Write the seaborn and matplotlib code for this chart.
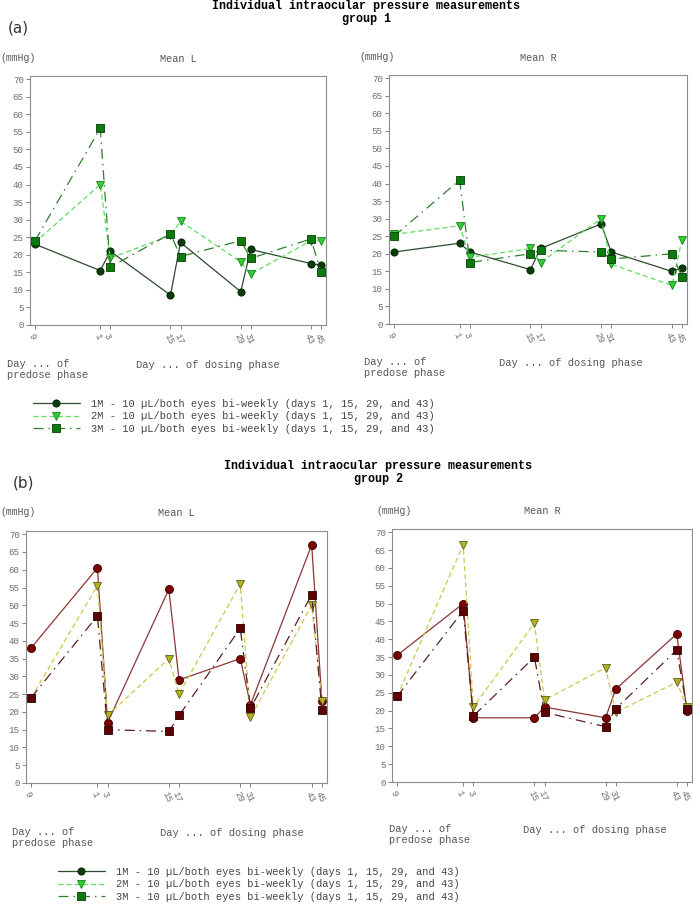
import matplotlib
matplotlib.use("Agg")
import matplotlib.pyplot as plt
import numpy as np
import pandas as pd
import seaborn as sns

sns.set_theme(style="white")
plt.rcParams["font.family"] = ["Liberation Mono", "DejaVu Sans Mono"]

W, H = 693, 908

# x positions: predose day 9 drawn left of dosing day 1
DAY_LABELS = ["9", "1", "3", "15", "17", "29", "31", "43", "45"]
DAY_POS = [-12, 1, 3, 15, 17, 29, 31, 43, 45]

# ── group 1 ───────────────────────────────────────────────────────────────────
g1_L_1M = [23, 15.5, 21, 8.5, 23.5, 9.5, 21.5, 17.5, 17]
g1_L_2M = [23.5, 40, 19, 25.5, 29.5, 18, 14.5, 24, 24]
g1_L_3M = [24, 56, 16.5, 26, 19.5, 24, 19, 24.5, 15]

g1_R_1M = [20.5, 23, 20.5, 15.5, 21.5, 28.5, 20.5, 15, 16]
g1_R_2M = [25.5, 28, 19, 21.5, 17.5, 30, 17, 11, 24]
g1_R_3M = [25, 41, 17.5, 20, 21, 20.5, 18.5, 20, 13.5]

# ── group 2 ───────────────────────────────────────────────────────────────────
g2_L_1M = [38, 60.5, 17, 54.5, 29, 35, 22, 67, 23]
g2_L_2M = [24, 55.5, 19, 35, 25, 56, 18.5, 50, 23]
g2_L_3M = [24, 47, 15, 14.5, 19, 43.5, 21, 53, 20.5]

g2_R_1M = [35.5, 50, 18, 18, 21, 18, 26, 41.5, 20]
g2_R_2M = [24, 66.5, 21, 44.5, 23, 32, 19.5, 28, 21]
g2_R_3M = [24, 48, 18.5, 35, 19.5, 15.5, 20.5, 37, 20.5]

LEGEND_LABELS = [
    "1M - 10 \u00b5L/both eyes bi-weekly (days 1, 15, 29, and 43)",
    "2M - 10 \u00b5L/both eyes bi-weekly (days 1, 15, 29, and 43)",
    "3M - 10 \u00b5L/both eyes bi-weekly (days 1, 15, 29, and 43)",
]

DASH_3M = (0, (8, 4, 1.2, 4))
STYLES = [
    dict(marker="o", linestyle="-"),
    dict(marker="v", linestyle=(0, (4, 2.5))),
    dict(marker="s", linestyle=DASH_3M),
]
G1_COLORS = [  # (line, marker face, marker edge)
    ("#2f4a2f", "#0b3d0b", "#001f00"),
    ("#5ede5e", "#33cc33", "#1d801d"),
    ("#2f7f2f", "#0c7a0c", "#053f05"),
]
G2_COLORS = [
    ("#8b3535", "#7a0000", "#3d0000"),
    ("#c9c94a", "#b3b322", "#5e5e10"),
    ("#5a1f1f", "#5c0000", "#2e0000"),
]

GREY = "#6e6e6e"
FRAME = "#8c8c8c"


def axes_rect(left, top, right, bottom):
    return [left / W, 1 - bottom / H, (right - left) / W, (bottom - top) / H]


def draw_panel(ax, series, colors, title, msize):
    handles = []
    for vals, st, (lc, mfc, mec) in zip(series, STYLES, colors):
        df = pd.DataFrame({"day": DAY_POS, "mmHg": vals})
        sns.lineplot(data=df, x="day", y="mmHg", ax=ax, sort=False,
                     color=lc, linewidth=0.9, markersize=msize,
                     markerfacecolor=mfc, markeredgecolor=mec,
                     markeredgewidth=0.6, **st)
        handles.append(ax.lines[-1])
    ax.set_xlim(-13, 46)
    ax.set_ylim(0, 70.9)
    ax.set_yticks(np.arange(0, 71, 5))
    ax.set_xticks(DAY_POS)
    ax.set_xticklabels(DAY_LABELS, rotation=-65, ha="left", va="top",
                       rotation_mode="anchor")
    ax.set_xlabel("")
    ax.set_ylabel("")
    ax.tick_params(axis="both", labelsize=6.6, colors=GREY, length=3,
                   width=0.6, direction="out", pad=1.5)
    ax.tick_params(axis="x", pad=2)
    ax.tick_params(left=True, bottom=True)
    for sp in ax.spines.values():
        sp.set_color(FRAME)
        sp.set_linewidth(0.8)
    ax.text(0.5, 1.07, title, transform=ax.transAxes, ha="center",
            va="center", fontsize=7.4, color="#555555")
    return handles


fig = plt.figure(figsize=(W / 100, H / 100), dpi=100)

ax_tl = fig.add_axes(axes_rect(30, 76, 326, 325))
ax_tr = fig.add_axes(axes_rect(389, 75, 687, 324))
ax_bl = fig.add_axes(axes_rect(26, 531, 327, 783))
ax_br = fig.add_axes(axes_rect(392, 529, 692, 782))

h1 = draw_panel(ax_tl, [g1_L_1M, g1_L_2M, g1_L_3M], G1_COLORS, "Mean L", 5.2)
draw_panel(ax_tr, [g1_R_1M, g1_R_2M, g1_R_3M], G1_COLORS, "Mean R", 5.2)
draw_panel(ax_bl, [g2_L_1M, g2_L_2M, g2_L_3M], G2_COLORS, "Mean L", 5.8)
draw_panel(ax_br, [g2_R_1M, g2_R_2M, g2_R_3M], G2_COLORS, "Mean R", 5.8)


def ftext(x, y, s, **kw):
    kw.setdefault("fontsize", 7.5)
    kw.setdefault("color", "#555555")
    kw.setdefault("va", "center")
    fig.text(x / W, 1 - y / H, s, **kw)


# titles
for y0, grp, cx in [(6, "group 1", 366), (466, "group 2", 378)]:
    ftext(cx, y0, "Individual intraocular pressure measurements",
          ha="center", fontweight="bold", color="black", fontsize=8.5)
    ftext(cx, y0 + 13, grp, ha="center", fontweight="bold", color="black",
          fontsize=8.5)

ftext(8, 28, "(a)", family="DejaVu Sans", fontsize=11, color="#333333")
ftext(13, 483, "(b)", family="DejaVu Sans", fontsize=11, color="#333333")

for x, y in [(0, 58), (359, 57), (0, 512), (376, 511)]:
    ftext(x, y, "(mmHg)", fontsize=7)

for xp, xd, y in [(7, 136, 364), (364, 499, 362), (12, 160, 832), (389, 523, 829)]:
    ftext(xp, y, "Day ... of")
    ftext(xp, y + 11, "predose phase")
    ftext(xd, y + 1, "Day ... of dosing phase")

# legends (both use the group 1 line styles, as in the source figure)
for x, y in [(33, 399), (58, 867)]:
    fig.legend(h1, LEGEND_LABELS, loc="upper left",
               bbox_to_anchor=(x / W, 1 - y / H), frameon=False,
               fontsize=7.5, handlelength=4.5, handletextpad=1.1,
               labelspacing=0.22, borderpad=0, borderaxespad=0,
               labelcolor="#444444")

fig.savefig("out.png", dpi=100)
